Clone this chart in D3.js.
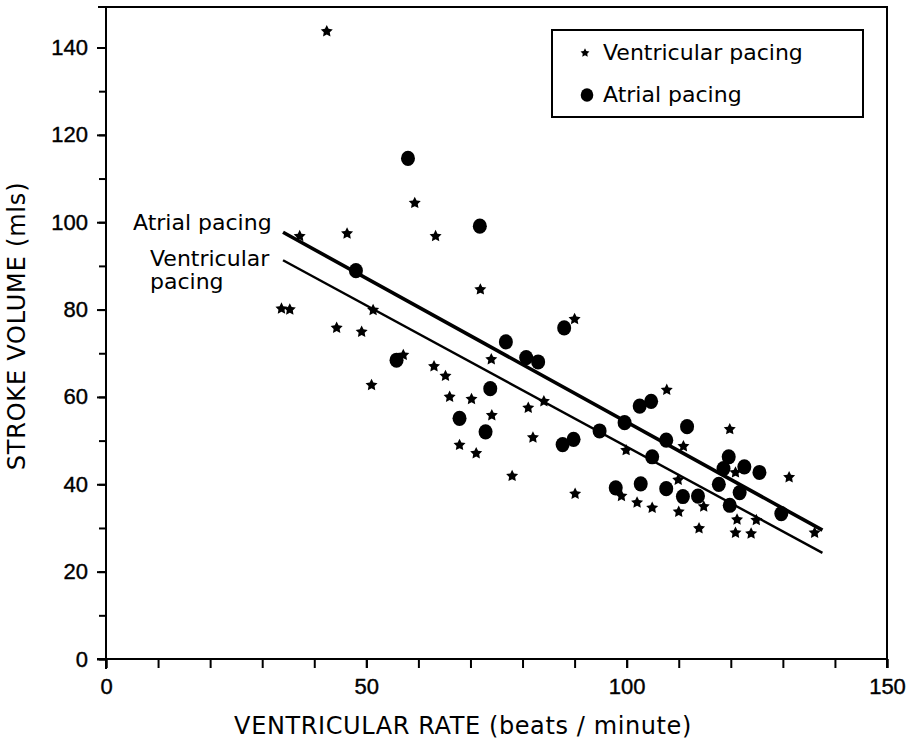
<!DOCTYPE html>
<html><head><meta charset="utf-8">
<script src="https://cdn.jsdelivr.net/npm/d3@7"></script>
<style>
html,body{margin:0;padding:0;background:#fff;}
svg{display:block;}
</style></head>
<body>
<svg id="chart" width="916" height="741"></svg>
<script>
// ---- data ----
const ventricularPacing = [
  [42.4,143.7],[59.3,104.4],[46.3,97.4],[37.2,96.8],[63.3,96.8],[71.9,84.6],[90.0,77.8],
  [33.7,80.2],[35.3,80.0],[44.3,75.8],[49.1,74.9],[51.3,79.9],[51.0,62.7],[57.1,69.6],
  [63.0,67.0],[65.2,64.8],[66.0,60.0],[70.2,59.5],[67.9,49.0],[71.1,47.1],[78.0,41.9],
  [74.0,68.6],[74.1,55.8],[81.1,57.5],[82.0,50.7],[84.1,59.0],[90.1,37.8],[99.9,47.8],
  [99.0,37.3],[102.0,35.8],[104.9,34.6],[107.7,61.6],[110.9,48.7],[119.8,52.6],[131.2,41.6],
  [120.9,42.7],[110.0,33.7],[114.8,34.9],[113.9,29.9],[121.2,31.9],[124.9,31.8],[120.9,28.9],
  [123.9,28.7],[136.1,28.9],[109.9,41.0]
];
const atrialPacing = [
  [58.0,114.6],[71.8,99.1],[48.0,88.9],[55.8,68.4],[76.8,72.6],[80.7,69.0],[83.0,68.0],
  [73.8,61.9],[67.9,55.1],[72.9,52.0],[88.0,75.8],[87.7,49.1],[89.8,50.3],[94.8,52.2],
  [99.6,54.1],[102.5,57.9],[104.7,59.0],[97.9,39.2],[102.7,40.1],[104.9,46.3],[107.6,39.0],
  [107.6,50.1],[111.6,53.2],[119.6,46.3],[118.6,43.6],[117.7,40.0],[122.6,44.0],[125.5,42.7],
  [121.7,38.1],[119.8,35.2],[129.7,33.3],[110.8,37.2],[113.7,37.3]
];
const atrialFit = [[34,97.7],[137.6,29.5]];
const ventricularFit = [[34,91.3],[137.6,24.3]];
const xTickLabels = [0,50,100,150];
const yTickLabels = [0,20,40,60,80,100,120,140];
const xMinorTicks = d3.range(0,151,10);
const yMinorTicks = d3.range(0,150,10);
const legendItems = ["Ventricular pacing","Atrial pacing"];

// ---- layout ----
const svg = d3.select("#chart");
const x = d3.scaleLinear().domain([0,150]).range([106,887]);
const y = d3.scaleLinear().domain([0,140]).range([659,47.5]);
const yTop = 149.3;
const axisFont = "'Liberation Sans', Arial, sans-serif";
const textFont = "'DejaVu Sans', sans-serif";

// a chunky five-pointed star symbol
const fatStar = {
  draw(ctx, size) {
    const R = Math.sqrt(size) , r = R * 0.5;
    for (let i = 0; i < 10; i++) {
      const a = -Math.PI/2 + i*Math.PI/5;
      const rr = i % 2 ? r : R;
      const px = rr*Math.cos(a), py = rr*Math.sin(a);
      i ? ctx.lineTo(px,py) : ctx.moveTo(px,py);
    }
    ctx.closePath();
  }
};

// frame
const frame = svg.append("g").attr("stroke","#000").attr("stroke-width",2).attr("fill","none");
frame.append("line").attr("x1",x(0)).attr("x2",x(0)).attr("y1",y(yTop)).attr("y2",y(0)+10);
frame.append("line").attr("x1",x(0)-9).attr("x2",x(150)).attr("y1",y(0)).attr("y2",y(0));
frame.append("line").attr("x1",x(0)-8).attr("x2",x(150)+1).attr("y1",y(yTop)).attr("y2",y(yTop));
frame.append("line").attr("x1",x(150)).attr("x2",x(150)).attr("y1",y(yTop)).attr("y2",y(0)+9);

// x axis
const gx = svg.append("g").attr("transform",`translate(0,${y(0)})`);
gx.call(d3.axisBottom(x).tickValues(xMinorTicks).tickSize(9).tickSizeOuter(0).tickFormat(""));
const gxl = svg.append("g").attr("transform",`translate(0,${y(0)})`);
gxl.call(d3.axisBottom(x).tickValues(xTickLabels).tickSize(9).tickPadding(10).tickSizeOuter(0));
// y axis
const gy = svg.append("g").attr("transform",`translate(${x(0)},0)`);
gy.call(d3.axisLeft(y).tickValues(yMinorTicks).tickSize(7).tickSizeOuter(0).tickFormat(""));
const gyl = svg.append("g").attr("transform",`translate(${x(0)},0)`);
gyl.call(d3.axisLeft(y).tickValues(yTickLabels).tickSize(9).tickPadding(9).tickSizeOuter(0));
[gx,gxl,gy,gyl].forEach(g=>{
  g.select(".domain").remove();
  g.selectAll(".tick line").attr("stroke","#000").attr("stroke-width",2);
  g.selectAll(".tick text").attr("fill","#000").attr("font-family",axisFont).attr("font-size",22)
    .attr("stroke","#000").attr("stroke-width",0.4);
});

// axis titles
svg.append("text").attr("x",463).attr("y",734).attr("text-anchor","middle")
  .attr("font-family",textFont).attr("font-size",24).attr("letter-spacing",0.6).attr("fill","#000")
  .text("VENTRICULAR  RATE (beats / minute)");
svg.append("text").attr("transform","translate(25,326) rotate(-90)").attr("text-anchor","middle")
  .attr("font-family",textFont).attr("font-size",24).attr("letter-spacing",0.8).attr("fill","#000")
  .text("STROKE VOLUME (mls)");

// regression lines
const line = d3.line().x(d=>x(d[0])).y(d=>y(d[1]));
svg.append("path").datum(atrialFit).attr("d",line).attr("stroke","#000").attr("stroke-width",3.6).attr("fill","none");
svg.append("path").datum(ventricularFit).attr("d",line).attr("stroke","#000").attr("stroke-width",2.4).attr("fill","none");

// line labels
const lab = svg.append("g").attr("font-family",textFont).attr("font-size",22).attr("fill","#000");
lab.append("text").attr("x",133).attr("y",230).text("Atrial pacing");
lab.append("text").attr("x",150).attr("y",266).text("Ventricular");
lab.append("text").attr("x",150).attr("y",289).text("pacing");

// points
const star = d3.symbol().type(fatStar).size(40);
svg.append("g").selectAll("path").data(ventricularPacing).join("path")
  .attr("transform",d=>`translate(${x(d[0])},${y(d[1])})`).attr("d",star).attr("fill","#000");
svg.append("g").selectAll("ellipse").data(atrialPacing).join("ellipse")
  .attr("cx",d=>x(d[0])).attr("cy",d=>y(d[1])).attr("rx",7).attr("ry",7.6).attr("fill","#000");

// legend
const lg = svg.append("g");
lg.append("rect").attr("x",552).attr("y",30).attr("width",311).attr("height",87)
  .attr("fill","#fff").attr("stroke","#000").attr("stroke-width",2);
lg.append("path").attr("transform","translate(585,53)").attr("d",d3.symbol().type(fatStar).size(22)()).attr("fill","#000");
lg.append("ellipse").attr("cx",587).attr("cy",95).attr("rx",6.3).attr("ry",6.8).attr("fill","#000");
lg.selectAll("text").data(legendItems).join("text")
  .attr("x",603).attr("y",(d,i)=>60+i*42)
  .attr("font-family",textFont).attr("font-size",22).attr("fill","#000").text(d=>d);
</script>
</body></html>
